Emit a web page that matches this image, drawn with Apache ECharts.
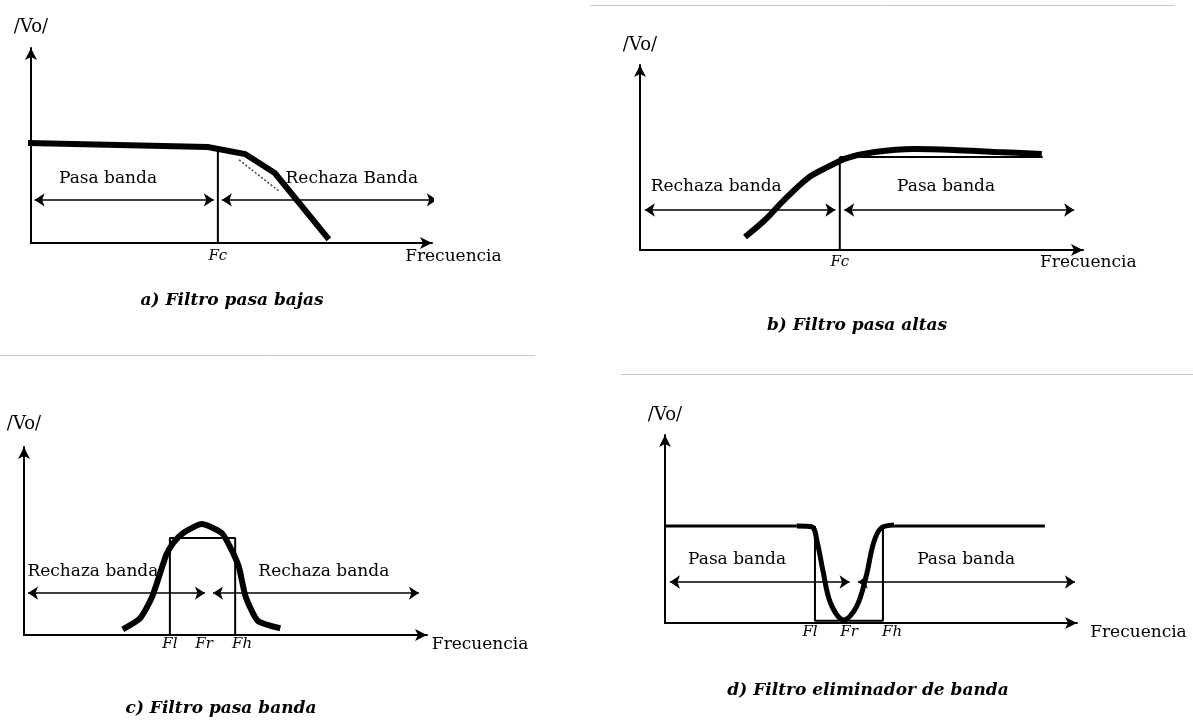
<!DOCTYPE html>
<html><head><meta charset="utf-8">
<script src="https://cdn.jsdelivr.net/npm/echarts@6/dist/echarts.min.js"></script>
<style>html,body{margin:0;padding:0;background:#fff}#c{width:1193px;height:720px}</style>
</head><body><div id="c"></div>
<script>
// ---------- DATA (abstract units: frequency 0..100, |Vo| 0..100) ----------
// a) low-pass
const lpFc = 46.6;
const lpCurve = [[-1.7,51.3],[44.1,49.2],[53.4,45.6],[60.8,35.9],[73.8,3.1]];
const lpAsymptote = [[51.9,42.6],[62.1,26.2]];
const lpFcTop = 48.7;
const lpBandY = 22.1;
const lpBandEnd = 101.2;
const lpTexts = [["Pasa banda",19.2,32.8],["Rechaza Banda",80.0,32.8]];
const lpTicks = [[lpFc,"Fc"]];
const lpXName = [93.3,-7.2];
// b) high-pass
const hpFc = 45.1;
const hpCurve = [[23.7,7.0],[28.2,16.2],[32.5,27.0],[37.9,38.9],[42.4,44.9],[46.7,49.7],[53.0,53.0],[61.9,54.6],[70.7,54.1],[80.4,53.0],[90.7,51.9]];
const hpIdeal = [[45.1,50.3],[90.9,50.3]];
const hpBandY = 21.6;
const hpBandStart = 1.1, hpBandEnd = 98.0;
const hpTexts = [["Rechaza banda",17.2,34.1],["Pasa banda",69.1,34.1]];
const hpTicks = [[hpFc,"Fc"]];
const hpXName = [90.3,-7.0];
// c) band-pass
const bpFl = 36.2, bpFr = 45.9, bpFh = 52.4, bpTop = 51.6;
const bpCurve = [[24.5,3.0],[28.8,8.9],[31.8,20.4],[35.3,42.6],[37.0,48.8],[39.6,54.4],[44.1,59.0],[49.0,54.4],[51.1,47.0],[53.3,36.3],[55.0,20.4],[58.0,7.6],[63.6,3.6]];
const bpBandY = 22.3;
const bpBandStart = 1.0, bpBandMid = 45.9, bpBandEnd = 98.0;
const bpTexts = [["Rechaza banda",17.1,33.5],["Rechaza banda",74.4,33.5]];
const bpTicks = [[36.2,"Fl"],[44.7,"Fr"],[54.1,"Fh"]];
const bpXName = [101.2,-5.3];
// d) band-stop
const bsFl = 36.4, bsFh = 52.9, bsLevel = 51.6, bsBottom = 1.2;
const bsFlatLeft = [[0,51.6],[32.0,51.6]];
const bsFlatRight = [[55.6,51.6],[92.2,51.6]];
const bsCurve = [[32.0,51.6],[35.6,51.2],[37.0,42.4],[38.3,28.2],[40.2,10.5],[43.4,1.6],[46.5,8.7],[48.8,24.6],[50.6,42.4],[52.4,50.4],[55.6,52.1]];
const bsBandY = 21.8;
const bsBandStart = 1.2, bsBandMid = 45.8, bsBandEnd = 99.5;
const bsTexts = [["Pasa banda",17.5,33.5],["Pasa banda",73.1,33.5]];
const bsTicks = [[35.2,"Fl"],[44.7,"Fr"],[55.1,"Fh"]];
const bsXName = [103.2,-5.3];

const captions = ["a) Filtro pasa bajas","b) Filtro pasa altas","c) Filtro pasa banda","d) Filtro eliminador de banda"];
const yName = "/Vo/";
const xName = "Frecuencia";

// ---------- LAYOUT / STYLE ----------
const SERIF = "DejaVu Serif";
const grids = [
  {left:31, top:48, width:401, height:195},
  {left:640, top:65, width:443, height:185},
  {left:24, top:447, width:403, height:188},
  {left:665, top:435, width:412, height:188}
];
const yNameGap = [12,11,14,11];
const labelMargin = [6,5,2,2];
const ticksAll = [lpTicks,hpTicks,bpTicks,bsTicks];

const xAxes = grids.map((g,i)=>({
  type:'value', gridIndex:i, min:0, max:100,
  axisLine:{show:true, onZero:false, lineStyle:{color:'#000',width:2}, symbol:['none','arrow'], symbolSize:[9,12]},
  axisTick:{show:false}, splitLine:{show:false},
  axisLabel:{show:true, customValues: ticksAll[i].map(t=>t[0]), margin: labelMargin[i],
    formatter: v => { const t = ticksAll[i].find(t=>Math.abs(t[0]-v)<1e-6); return t ? t[1] : ''; },
    color:'#000', fontFamily:SERIF, fontStyle:'italic', fontSize:15}
}));
const yAxes = grids.map((g,i)=>({
  type:'value', gridIndex:i, min:0, max:100,
  axisLine:{show:true, onZero:false, lineStyle:{color:'#000',width:2}, symbol:['none','arrow'], symbolSize:[9,12]},
  axisTick:{show:false}, splitLine:{show:false}, axisLabel:{show:false},
  name:yName, nameLocation:'end', nameGap:yNameGap[i],
  nameTextStyle:{color:'#000', fontFamily:SERIF, fontSize:18}
}));

function line(i, data, width, extra){
  return Object.assign({type:'line', xAxisIndex:i, yAxisIndex:i, data:data, showSymbol:false, symbol:'none', clip:false, silent:true,
    lineStyle:{color:'#000', width:width}}, extra||{});
}
function arrows(i, segs){
  return {type:'lines', coordinateSystem:'cartesian2d', xAxisIndex:i, yAxisIndex:i, silent:true,
    symbol:['arrow','arrow'], symbolSize:10,
    lineStyle:{color:'#000', width:1.6, opacity:1},
    data: segs.map(s=>({coords:s}))};
}
function texts(i, arr, pos){
  return {type:'scatter', xAxisIndex:i, yAxisIndex:i, symbolSize:0, silent:true, clip:false,
    itemStyle:{color:'#000', opacity:1},
    data: arr.map(t=>({value:[t[1],t[2]], name:t[0]})),
    label:{show:true, position:pos||'inside', distance:0, formatter:p=>p.name, color:'#000', opacity:1,
      textBorderWidth:0, textShadowBlur:0, fontFamily:SERIF, fontSize:17}};
}

const series = [
  // a
  line(0, lpCurve, 6, {lineStyle:{color:'#000',width:6,cap:'square',join:'miter'}}),
  line(0, lpAsymptote, 1.5, {lineStyle:{color:'#444',width:1.5,type:[2,2]}}),
  line(0, [[lpFc,0],[lpFc,lpFcTop]], 2),
  arrows(0, [[[0.9,lpBandY],[lpFc-1,lpBandY]], [[lpFc+1,lpBandY],[lpBandEnd,lpBandY]]]),
  texts(0, lpTexts),
  texts(0, [[xName, lpXName[0], lpXName[1]]], 'right'),
  // b
  line(1, hpCurve, 6, {smooth:0.3}),
  line(1, hpIdeal, 2),
  line(1, [[hpFc,0],[hpFc,hpIdeal[0][1]]], 2),
  arrows(1, [[[hpBandStart,hpBandY],[hpFc-1,hpBandY]], [[hpFc+1,hpBandY],[hpBandEnd,hpBandY]]]),
  texts(1, hpTexts),
  texts(1, [[xName, hpXName[0], hpXName[1]]], 'right'),
  // c
  line(2, bpCurve, 6, {smooth:0.2}),
  line(2, [[bpFl,0],[bpFl,bpTop],[bpFh,bpTop],[bpFh,0]], 2),
  arrows(2, [[[bpBandStart,bpBandY],[bpBandMid-1,bpBandY]], [[bpBandMid+1,bpBandY],[bpBandEnd,bpBandY]]]),
  texts(2, bpTexts),
  texts(2, [[xName, bpXName[0], bpXName[1]]], 'right'),
  // d
  line(3, bsFlatLeft, 3),
  line(3, bsFlatRight, 3),
  line(3, bsCurve, 5, {smooth:0.35}),
  line(3, [[bsFl,bsLevel],[bsFl,bsBottom],[bsFh,bsBottom],[bsFh,bsLevel]], 2),
  arrows(3, [[[bsBandStart,bsBandY],[bsBandMid-1,bsBandY]], [[bsBandMid+1,bsBandY],[bsBandEnd,bsBandY]]]),
  texts(3, bsTexts),
  texts(3, [[xName, bsXName[0], bsXName[1]]], 'right')
];

const capPos = [[232,292],[857,317],[221,700],[868,682]];
const title = captions.map((c,i)=>({text:c, left:capPos[i][0], top:capPos[i][1], textAlign:'center', padding:0,
  textStyle:{color:'#000', fontFamily:SERIF, fontStyle:'italic', fontWeight:'bold', fontSize:17}}));

const sepStyle = {stroke:'#c8c8c8', lineWidth:1};
const chart = echarts.init(document.getElementById('c'), null, {renderer:'canvas'});
chart.setOption({
  animation:false,
  backgroundColor:'#fff',
  title: title,
  grid: grids,
  xAxis: xAxes,
  yAxis: yAxes,
  series: series,
  graphic: [
    {type:'line', shape:{x1:590,y1:5.5,x2:1175,y2:5.5}, style:sepStyle, silent:true},
    {type:'line', shape:{x1:0,y1:355.5,x2:535,y2:355.5}, style:sepStyle, silent:true},
    {type:'line', shape:{x1:621,y1:374.5,x2:1193,y2:374.5}, style:sepStyle, silent:true}
  ]
});
</script>
</body></html>
